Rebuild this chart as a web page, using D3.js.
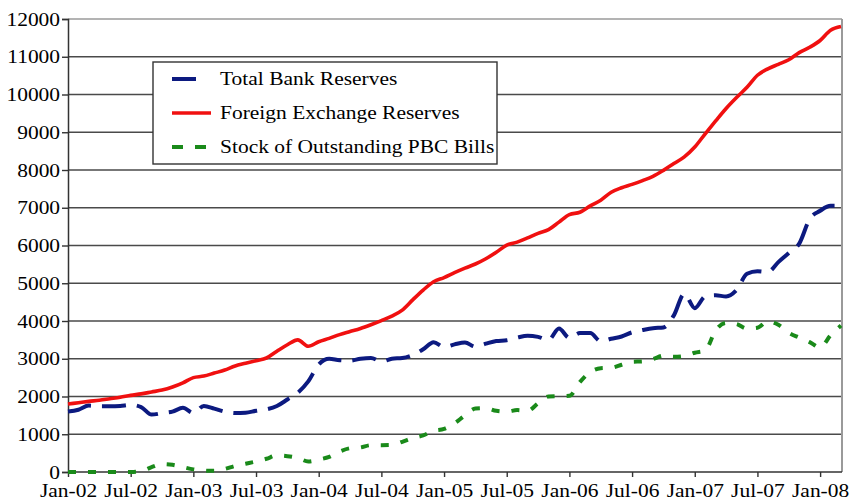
<!DOCTYPE html>
<html><head><meta charset="utf-8">
<script src="https://cdn.jsdelivr.net/npm/d3@7"></script>
<style>
html,body{margin:0;padding:0;background:#fff;}
svg text{font-family:"Liberation Serif","Times New Roman",serif;fill:#000;}
</style></head>
<body>
<svg id="chart" width="851" height="504"></svg>
<script>
// ---- data (monthly, Jan-02 .. Mar-08) ----
const tickLabels = ["Jan-02","Jul-02","Jan-03","Jul-03","Jan-04","Jul-04","Jan-05","Jul-05","Jan-06","Jul-06","Jan-07","Jul-07","Jan-08"];
const yTicks = [0,1000,2000,3000,4000,5000,6000,7000,8000,9000,10000,11000,12000];
const seriesNames = ["Total Bank Reserves","Foreign Exchange Reserves","Stock of Outstanding PBC Bills"];

const totalBankReserves = [
 1600,1650,1760,1740,1740,1750,1780,1720,1520,1560,1600,1700,
 1560,1750,1680,1600,1560,1570,1620,1660,1750,1920,2100,2400,
 2850,3000,2960,2950,3000,3020,2930,3000,3020,3100,3250,3440,
 3310,3380,3430,3320,3400,3470,3490,3560,3610,3580,3500,3800,
 3550,3680,3680,3460,3530,3590,3700,3760,3810,3830,4150,4720,
 4340,4650,4680,4650,4820,5250,5320,5300,5560,5800,6050,6700,
 6920,7050,7050];
const foreignExchangeReserves = [
 1800,1835,1870,1900,1940,1980,2030,2070,2120,2170,2250,2360,
 2500,2540,2620,2700,2810,2880,2950,3020,3200,3370,3500,3330,
 3450,3540,3640,3720,3800,3900,4010,4130,4290,4560,4820,5040,
 5150,5280,5400,5510,5650,5820,6010,6090,6200,6320,6420,6620,
 6820,6880,7050,7200,7410,7530,7620,7720,7830,7990,8170,8350,
 8610,8960,9300,9630,9920,10190,10510,10680,10800,10920,11110,11250,
 11430,11700,11800];
const pbcBills = [
 0,0,0,0,0,0,0,20,130,210,190,130,
 70,40,30,80,160,220,280,350,440,420,370,280,
 330,400,540,630,650,710,710,715,800,900,970,1090,
 1140,1290,1500,1680,1690,1620,1600,1640,1620,1820,2000,2010,
 2020,2380,2650,2750,2760,2840,2920,2930,2990,3080,3050,3070,
 3160,3220,3750,3950,3920,3800,3820,3990,3900,3690,3560,3440,
 3300,3620,3880];

// ---- layout ----
const svg = d3.select("#chart");
const L = 68, R = 842, T = 19, B = 472;
const SX = 1.13; // horizontal text stretch as in reference
const x = d3.scaleLinear().domain([0, totalBankReserves.length - 1]).range([L, 841]);
const y = d3.scaleLinear().domain([0, 12000]).range([B, T]);

// gridlines
svg.append("g").selectAll("line").data(yTicks.filter(v => v > 0 && v < 12000)).join("line")
  .attr("x1", L).attr("x2", R).attr("y1", d => y(d)).attr("y2", d => y(d))
  .attr("stroke", "#4a4a4a").attr("stroke-width", 1.4);
// top and right border
svg.append("line").attr("x1", L).attr("x2", R).attr("y1", y(12000)).attr("y2", y(12000))
  .attr("stroke", "#9a9a9a").attr("stroke-width", 1.6);
svg.append("line").attr("x1", R).attr("x2", R).attr("y1", T).attr("y2", B)
  .attr("stroke", "#9a9a9a").attr("stroke-width", 2);

// y axis
const yAxis = svg.append("g").attr("transform", `translate(${L},0)`)
  .call(d3.axisLeft(y).tickValues(yTicks).tickSize(6).tickPadding(1).tickFormat(d3.format("d")));
yAxis.select(".domain").attr("stroke", "#333").attr("stroke-width", 1.5);
yAxis.selectAll(".tick line").attr("stroke", "#333").attr("stroke-width", 1.4);
yAxis.selectAll("text").attr("font-size", 19).attr("font-family", "Liberation Serif")
  .attr("transform", `scale(${SX},1)`);

// x axis
const xAxis = svg.append("g").attr("transform", `translate(0,${B})`)
  .call(d3.axisBottom(x).tickValues(tickLabels.map((d, i) => i * 6)).tickSize(5).tickPadding(7)
    .tickFormat((d, i) => tickLabels[i]));
xAxis.select(".domain").attr("stroke", "#333").attr("stroke-width", 1.5).attr("d", `M${L},0H${R}`);
xAxis.selectAll(".tick line").attr("stroke", "#333").attr("stroke-width", 1.4);
xAxis.selectAll("text").attr("font-size", 19).attr("font-family", "Liberation Serif")
  .attr("transform", `scale(${SX},1)`);

// series
const line = d3.line().x((d, i) => x(i)).y(d => y(d)).curve(d3.curveMonotoneX);
const styles = [
  {data: totalBankReserves, color: "#0c1a80", dash: "24,11", width: 4},
  {data: foreignExchangeReserves, color: "#f01010", dash: null, width: 3.6},
  {data: pbcBills, color: "#1a8a1a", dash: "8,12", width: 4}
];
svg.append("g").selectAll("path").data([styles[2], styles[0], styles[1]]).join("path")
  .attr("d", s => line(s.data)).attr("fill", "none")
  .attr("stroke", s => s.color).attr("stroke-width", s => s.width)
  .attr("stroke-dasharray", s => s.dash).attr("stroke-linejoin", "round");

// legend
const lg = svg.append("g");
lg.append("rect").attr("x", 153).attr("y", 62).attr("width", 344).attr("height", 102)
  .attr("fill", "#fff").attr("stroke", "#333").attr("stroke-width", 1.4);
const rowsY = [79, 113, 147];
styles.forEach((s, i) => {
  lg.append("line").attr("x1", 172).attr("x2", i === 1 ? 211 : 207)
    .attr("y1", rowsY[i]).attr("y2", rowsY[i])
    .attr("stroke", s.color).attr("stroke-width", s.width)
    .attr("stroke-dasharray", i === 2 ? "11,12" : s.dash);
  lg.append("text").attr("transform", `translate(220,${rowsY[i]}) scale(${SX},1)`)
    .attr("dy", "0.33em").attr("font-size", 19).text(seriesNames[i]);
});
</script>
</body></html>
